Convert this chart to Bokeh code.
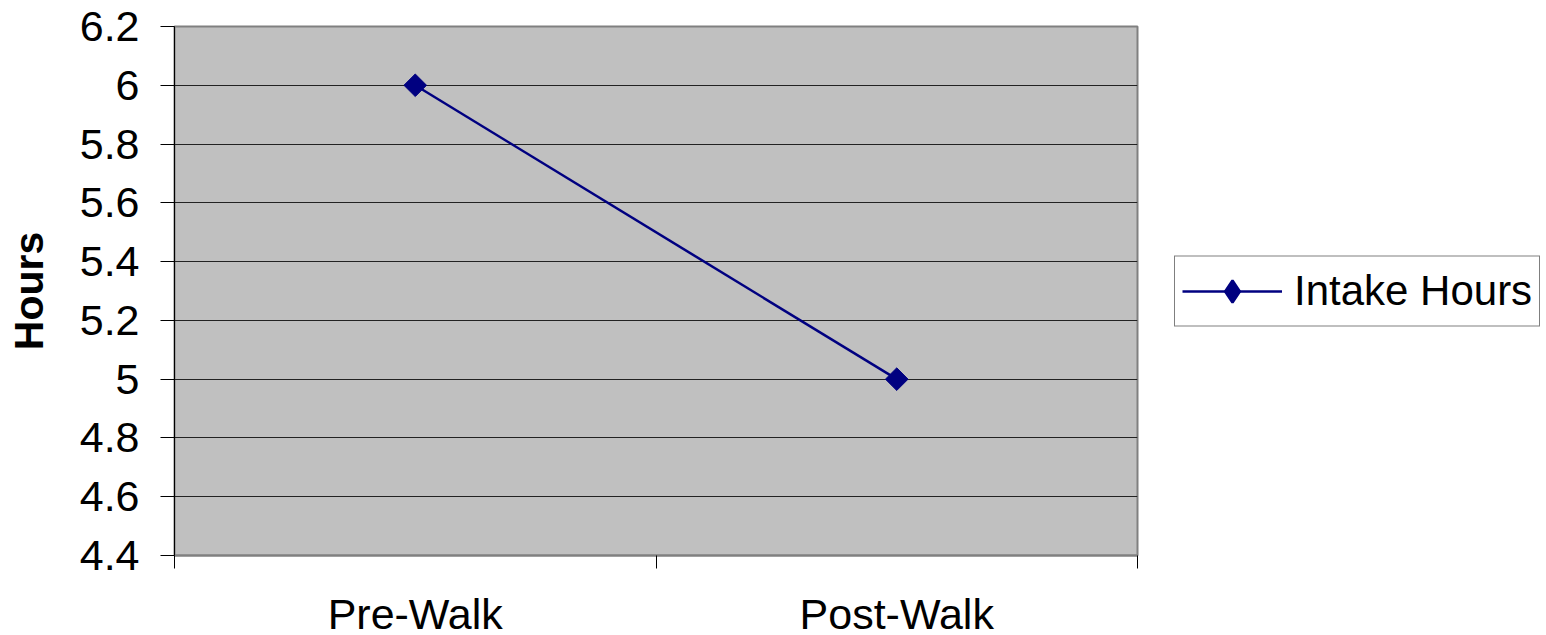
import numpy as np
from bokeh.plotting import figure
from bokeh.models import Range1d, FixedTicker, Legend, LegendItem
from bokeh.embed import file_html
from bokeh.resources import INLINE

categories = ["Pre-Walk", "Post-Walk"]
intake_hours = [6.0, 5.0]
y_ticks = [4.4, 4.6, 4.8, 5.0, 5.2, 5.4, 5.6, 5.8, 6.0, 6.2]
y_tick_labels = ["4.4", "4.6", "4.8", "5", "5.2", "5.4", "5.6", "5.8", "6", "6.2"]

FONT = "Liberation Sans"
NAVY = "#000080"

x_pos = [i + 0.5 for i in range(len(categories))]

p = figure(width=1546, height=635, output_backend="svg", toolbar_location=None,
           x_range=Range1d(0, len(categories)), y_range=Range1d(y_ticks[0], y_ticks[-1]),
           min_border_left=174, min_border_top=26, min_border_right=409, min_border_bottom=80)
p.frame_width = 963
p.frame_height = 529

p.background_fill_color = "#C0C0C0"
p.border_fill_color = "white"
p.outline_line_color = "#808080"
p.outline_line_width = 2

# y axis
p.yaxis.ticker = FixedTicker(ticks=y_ticks)
p.yaxis.major_label_overrides = {t: l for t, l in zip(y_ticks, y_tick_labels)}
p.yaxis.axis_line_color = "black"
p.yaxis.major_tick_line_color = "black"
p.yaxis.major_tick_out = 14
p.yaxis.major_tick_in = 0
p.yaxis.minor_tick_line_color = None
p.yaxis.major_label_text_font = FONT
p.yaxis.major_label_text_font_size = "43px"
p.yaxis.major_label_text_color = "black"
p.yaxis.major_label_standoff = 21
p.yaxis.axis_label = "Hours"
p.yaxis.axis_label_text_font = FONT
p.yaxis.axis_label_text_font_size = "41px"
p.yaxis.axis_label_text_font_style = "bold"
p.yaxis.axis_label_text_color = "black"
p.yaxis.axis_label_standoff = 25

# x axis
p.xaxis.ticker = FixedTicker(ticks=x_pos, minor_ticks=list(range(len(categories) + 1)))
p.xaxis.major_label_overrides = {x: c for x, c in zip(x_pos, categories)}
p.xaxis.axis_line_color = "#808080"
p.xaxis.axis_line_width = 2
p.xaxis.major_tick_line_color = None
p.xaxis.major_tick_out = 0
p.xaxis.major_tick_in = 0
p.xaxis.minor_tick_line_color = "black"
p.xaxis.minor_tick_out = 13
p.xaxis.minor_tick_in = 0
p.xaxis.major_label_text_font = FONT
p.xaxis.major_label_text_font_size = "43px"
p.xaxis.major_label_text_color = "black"
p.xaxis.major_label_standoff = 21

p.xgrid.grid_line_color = None
p.ygrid.ticker = FixedTicker(ticks=y_ticks)
p.ygrid.grid_line_color = "#222222"
p.ygrid.grid_line_width = 1

ln = p.line(x_pos, intake_hours, line_color=NAVY, line_width=2.5)
mk = p.scatter(x_pos, intake_hours, marker="square", angle=np.pi / 4, size=16,
               fill_color=NAVY, line_color=NAVY)
# legend glyph: diamond marker (legend swatches ignore marker angle)
mk_leg = p.scatter(x_pos, intake_hours, marker="diamond", size=16,
                   fill_color=NAVY, line_color=NAVY, line_width=2.5, visible=False)

legend = Legend(items=[LegendItem(label="Intake Hours", renderers=[ln, mk_leg])],
                location="left", margin=37, padding=7, spacing=0,
                glyph_width=100, glyph_height=55, label_standoff=12,
                label_text_font=FONT, label_text_font_size="42px",
                label_text_color="black", border_line_color="black",
                border_line_width=1, background_fill_color="white",
                background_fill_alpha=1.0)
p.add_layout(legend, "right")

open("out.html", "w").write(file_html(p, INLINE))
